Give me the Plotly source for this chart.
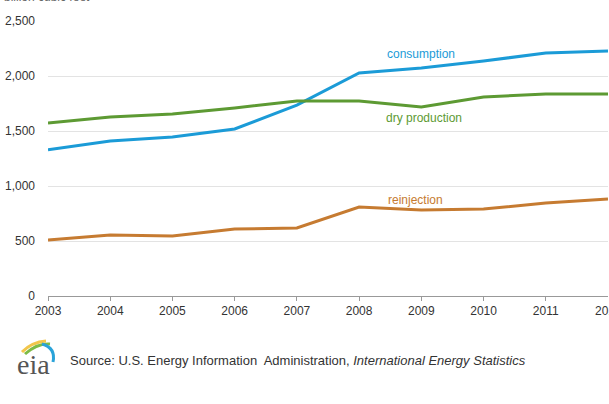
import plotly.graph_objects as go

years = [2003, 2004, 2005, 2006, 2007, 2008, 2009, 2010, 2011, 2012]
consumption = [1330, 1410, 1445, 1518, 1736, 2027, 2073, 2136, 2209, 2227]
dry_production = [1573, 1627, 1655, 1709, 1773, 1773, 1718, 1809, 1836, 1836]
reinjection = [509, 555, 545, 609, 618, 809, 782, 791, 845, 882]
y_ticks = [0, 500, 1000, 1500, 2000, 2500]
y_tick_labels = ["0", "500", "1,000", "1,500", "2,000", "2,500"]

C_BLUE = "#1b9bd7"
C_GREEN = "#5d9a33"
C_ORANGE = "#c67b31"

W, H = 609, 404
L, R, T, B = 48, 1, 21, 108
PW = W - L - R
PH = H - T - B


def px(x):
    return (x - L) / PW


def py(y):
    return (H - B - y) / PH


fig = go.Figure()
for name, vals, col in [("consumption", consumption, C_BLUE),
                        ("dry production", dry_production, C_GREEN),
                        ("reinjection", reinjection, C_ORANGE)]:
    fig.add_trace(go.Scatter(x=years, y=vals, mode="lines", name=name,
                             line=dict(color=col, width=3), hoverinfo="skip"))

FONT = "Liberation Sans, Arial, sans-serif"
annotations = [
    dict(x=2009.0, y=2200, text="consumption", font=dict(color=C_BLUE, size=12)),
    dict(x=2009.05, y=1615, text="dry production", font=dict(color=C_GREEN, size=12)),
    dict(x=2008.9, y=870, text="reinjection", font=dict(color=C_ORANGE, size=12)),
]
annotations = [dict(a, xref="x", yref="y", showarrow=False,
                    font=dict(a["font"], family=FONT))
               for a in annotations]

# last year label, partly cut off by the right edge as in the reference
annotations.append(dict(xref="x", yref="paper", x=years[-1], y=py(302),
                        xanchor="center", yanchor="top", showarrow=False,
                        text=str(years[-1]),
                        font=dict(size=12, color="#333", family=FONT)))

annotations.append(dict(xref="paper", yref="paper", x=px(2), y=py(6),
                        xanchor="left", yanchor="bottom", showarrow=False,
                        text="billion cubic feet",
                        font=dict(size=12, color="#666", family=FONT)))
annotations.append(dict(xref="paper", yref="paper", x=px(68), y=py(360),
                        xanchor="left", yanchor="middle", showarrow=False,
                        text="Source: U.S. Energy Information  Administration, <i>International Energy Statistics</i>",
                        font=dict(size=13, color="#333", family=FONT)))
annotations.append(dict(xref="paper", yref="paper", x=px(33), y=py(364),
                        xanchor="center", yanchor="middle", showarrow=False,
                        text="eia",
                        font=dict(size=28, color="#555",
                                  family="Liberation Serif, Times New Roman, serif")))

shapes = []


def arc(x0, y0, cx, cy, x1, y1, col, w):
    return dict(type="path", xref="paper", yref="paper",
                path=f"M {px(x0)},{py(y0)} Q {px(cx)},{py(cy)} {px(x1)},{py(y1)}",
                line=dict(color=col, width=w))


shapes.append(arc(22, 352, 32, 342, 46, 341, "#f2c64b", 3))
shapes.append(arc(25, 354, 37, 343, 50, 344, "#7dbb45", 3))
shapes.append(arc(42, 344, 56, 348, 53, 362, "#2aa3d9", 3))

fig.update_layout(
    width=W, height=H,
    margin=dict(l=L, r=R, t=T, b=B),
    paper_bgcolor="white", plot_bgcolor="white",
    showlegend=False,
    annotations=annotations,
    shapes=shapes,
    font=dict(family=FONT, size=12, color="#333"),
    xaxis=dict(range=[2003, 2012], tickvals=years[:-1],
               ticktext=[str(y) for y in years[:-1]],
               showgrid=False, zeroline=False, showline=True, linecolor="#999",
               linewidth=1, ticks="outside", ticklen=4, tickcolor="#999",
               tickfont=dict(size=12, color="#333"), fixedrange=True),
    yaxis=dict(range=[0, 2500], tickvals=y_ticks, ticktext=y_tick_labels,
               showgrid=True, gridcolor="#e3e3e3", gridwidth=1, zeroline=False,
               showline=False, ticks="", ticklabelstandoff=12,
               tickfont=dict(size=12, color="#333"), fixedrange=True),
)

fig.write_html("out.html", config=dict(displayModeBar=False))
